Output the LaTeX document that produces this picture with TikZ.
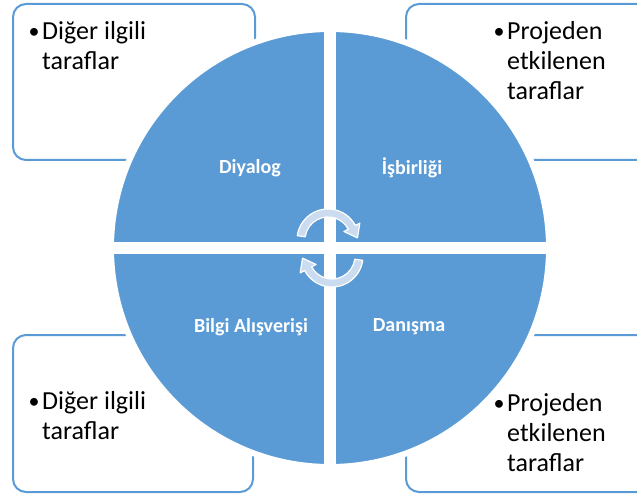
\documentclass[tikz,border=0pt]{standalone}
\usepackage{fontspec}
\setmainfont{Carlito}
\definecolor{quadblue}{RGB}{91,155,213}
\definecolor{arrowfill}{RGB}{203,220,240}
\newcommand{\sidebullet}{\llap{\raisebox{1pt}{\fontsize{22}{22}\selectfont •}\hspace{2.5pt}}}

\begin{document}
\begin{tikzpicture}[x=1pt, y=-1pt,
    sidebox/.style={draw=quadblue, line width=2pt, rounded corners=13pt, fill=white},
    sidetext/.style={anchor=north west, inner sep=0pt, align=left, font=\fontsize{26}{30}\selectfont},
    quadlabel/.style={text=white, inner sep=0pt, font=\fontsize{20}{24}\selectfont\bfseries},
    cyclearrow/.style={fill=arrowfill, draw=white, line width=1.2pt, line join=round}]
    \useasboundingbox (0,0) rectangle (637,497);
    \clip (0,0) rectangle (637,497);

    % Side boxes (behind the circle)
    \draw[sidebox] (13,4) rectangle (255,160);
    \draw[sidebox] (406,4) rectangle (660,160);
    \draw[sidebox] (13,335) rectangle (253,492);
    \draw[sidebox] (406,335) rectangle (660,492);

    % Circle with white ring, split into four quarters
    \node[circle, fill=quadblue, draw=white, line width=6pt, minimum size=438pt, inner sep=0pt] (wheel) at (330,248) {};
    \draw[white, line width=12pt] (wheel.west) -- (wheel.east);
    \draw[white, line width=12pt] (wheel.north) -- (wheel.south);

    % Quarter labels
    \node[quadlabel] (dialog) at (250,168) {Diyalog};
    \node[quadlabel] (coop) at (412,168) {İşbirliği};
    \node[quadlabel] (info) at (251,327) {Bilgi Alışverişi};
    \node[quadlabel] (consult) at (409,327) {Danışma};

    % Cycle arrows in the middle
    \begin{scope}[shift={(328,240)}]
        \draw[cyclearrow] (-172:31) arc[start angle=-172, end angle=-28, radius=31] -- (-28:36)
            -- (29.5,-2.1) -- (-28:18) -- (-28:23) arc[start angle=-28, end angle=-172, radius=23] -- cycle;
    \end{scope}
    \begin{scope}[shift={(332,256)}, rotate=180]
        \draw[cyclearrow] (-172:31) arc[start angle=-172, end angle=-28, radius=31] -- (-28:36)
            -- (29.5,-2.1) -- (-28:18) -- (-28:23) arc[start angle=-28, end angle=-172, radius=23] -- cycle;
    \end{scope}

    % Box texts
    \node[sidetext] (others1) at (42,21.5) {\sidebullet Diğer ilgili\\taraflar};
    \node[sidetext] (affected1) at (507,21.5) {\sidebullet Projeden\\etkilenen\\taraflar};
    \node[sidetext] (others2) at (42,391) {\sidebullet Diğer ilgili\\taraflar};
    \node[sidetext] (affected2) at (507,393) {\sidebullet Projeden\\etkilenen\\taraflar};
\end{tikzpicture}
\end{document}
